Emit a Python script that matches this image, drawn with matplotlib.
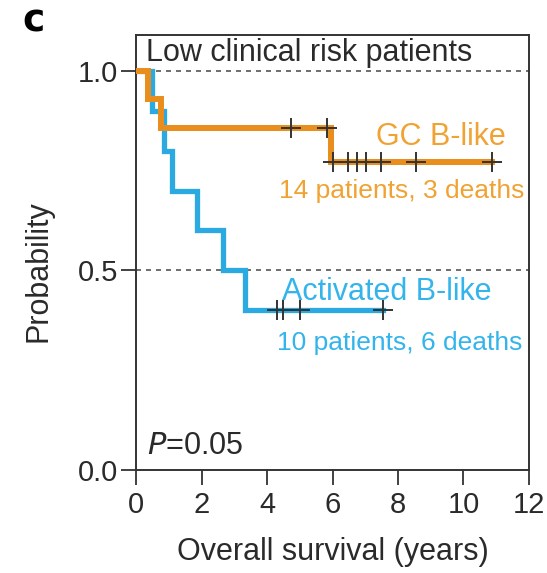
import numpy as np
import matplotlib
matplotlib.use("Agg")
import matplotlib.pyplot as plt

plt.rcParams['font.family'] = ['Liberation Sans', 'DejaVu Sans']

# GC B-like: step times and survival after each step
gc_times = [0, 0.37, 0.75, 5.95]
gc_surv = [1.0, 0.929, 0.857, 0.771]
gc_censor = [4.73, 5.82, 6.0, 6.48, 6.76, 7.01, 7.47, 8.54, 10.86]
gc_end = 10.86

# Activated B-like
abc_times = [0, 0.47, 0.84, 1.08, 1.85, 2.66, 3.33]
abc_surv = [1.0, 0.9, 0.8, 0.7, 0.6, 0.5, 0.4]
abc_censor = [4.3, 4.5, 5.0, 7.55]
abc_end = 7.55

ORANGE = "#E98E1D"
ORANGE_TXT = "#F0A232"
BLUE = "#2BA9E1"
BLUE_TXT = "#33B4EA"
DARK = "#333333"
TXT = "#2a2a2a"


def step_at(times, surv, t):
    idx = np.searchsorted(times, t, side="right") - 1
    return np.array(surv)[idx]


fig = plt.figure(figsize=(5.47, 5.73), dpi=100)
ax = fig.add_axes([0.249, 0.180, 0.718, 0.759])

ax.axhline(1.0, color="#555555", lw=1.2, ls=(0, (3, 3)), zorder=1)
ax.axhline(0.5, color="#555555", lw=1.2, ls=(0, (3, 3)), zorder=1)

# blue first, orange on top
ax.step(abc_times + [abc_end], abc_surv + [abc_surv[-1]], where="post",
        color=BLUE, lw=3.8, zorder=2, solid_joinstyle="miter")
ax.step(gc_times + [gc_end], gc_surv + [gc_surv[-1]], where="post",
        color=ORANGE, lw=4.3, zorder=3, solid_joinstyle="miter")

ax.plot(abc_censor, step_at(abc_times, abc_surv, abc_censor), ls="none",
        marker="+", ms=15, mew=1.4, color=DARK, zorder=4)
ax.plot(gc_censor, step_at(gc_times, gc_surv, gc_censor), ls="none",
        marker="+", ms=15, mew=1.4, color=DARK, zorder=4)

ax.set_xlim(0, 12)
ax.set_ylim(0, 1.09)
ax.set_xticks([0, 2, 4, 6, 8, 10, 12])
ax.set_yticks([0, 0.5, 1.0])
ax.set_yticklabels(["0.0", "0.5", "1.0"])
ax.tick_params(direction="out", length=11, width=1.3, color=DARK,
               labelsize=21, labelcolor=TXT, pad=2)
ax.tick_params(axis="x", pad=4)
for s in ax.spines.values():
    s.set_color(DARK)
    s.set_linewidth(1.4)

ax.set_xlabel("Overall survival (years)", fontsize=22, color=TXT)
ax.set_ylabel("Probability", fontsize=22, color=TXT)
ax.xaxis.set_label_coords(0.5, -0.154)
ax.yaxis.set_label_coords(-0.211, 0.457)

ax.text(0.3, 1.045, "Low clinical risk patients", fontsize=22, color=TXT,
        va="center", ha="left")
ax.text(11.3, 0.834, "GC B-like", fontsize=22, color=ORANGE_TXT, ha="right", va="center")
ax.text(11.85, 0.698, "14 patients, 3 deaths", fontsize=19, color=ORANGE_TXT,
        ha="right", va="center")
ax.text(10.87, 0.447, "Activated B-like", fontsize=22, color=BLUE_TXT, ha="right", va="center")
ax.text(11.8, 0.319, "10 patients, 6 deaths", fontsize=19, color=BLUE_TXT,
        ha="right", va="center")
ax.text(0.34, 0.06, r"$\it{P}$=0.05", fontsize=22, color=TXT, ha="left", va="center")

fig.text(0.040, 0.962, "c", fontsize=27, fontweight="bold", family="DejaVu Sans",
         ha="left", va="center")

fig.savefig("out.png", dpi=100)
